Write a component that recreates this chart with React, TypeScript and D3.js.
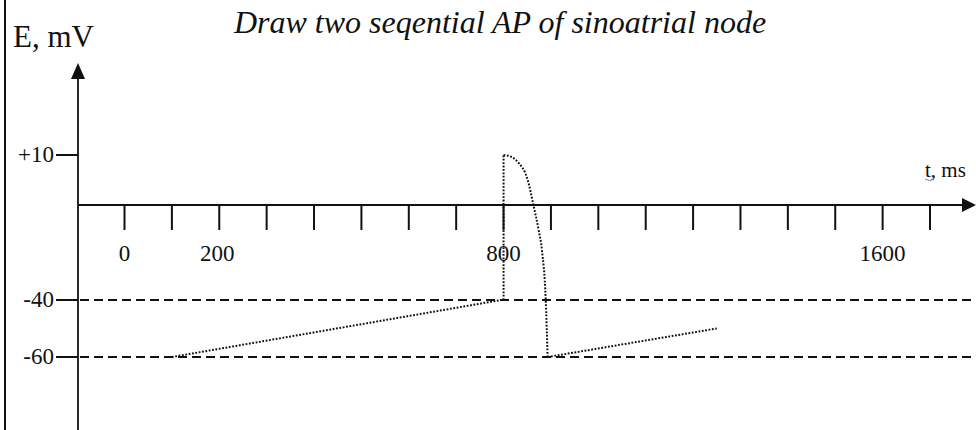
import React from "react";
import * as d3 from "d3";

// Time ticks along the horizontal axis (ms)
const tickTimes = [0, 100, 200, 300, 400, 500, 600, 700, 800, 900, 1000, 1100, 1200, 1300, 1400, 1500, 1600, 1700];
const labeledTimes = [0, 200, 800, 1600];

// Potential levels marked on the vertical axis (mV)
const levelValues = [10, -40, -60];
const levelLabels = ["+10", "-40", "-60"];
const dashedLevels = [-40, -60];

// Sinoatrial node action potential, sketched as dotted traces
const phase4First = [
  { t: 100, e: -60 },
  { t: 795, e: -40 },
];
const upstroke = [
  { t: 800, e: -40 },
  { t: 800, e: 10 },
];
const repolarization = [
  { t: 800, e: 10 },
  { t: 812, e: 9.8 },
  { t: 830, e: 8.6 },
  { t: 851, e: 5 },
  { t: 863, e: 0 },
  { t: 874, e: -10.5 },
  { t: 881, e: -19 },
  { t: 889, e: -40 },
  { t: 893, e: -60 },
];
const phase4Second = [
  { t: 893, e: -60 },
  { t: 1250, e: -50 },
];

const W = 976;
const H = 430;

export default function App() {
  const x = d3.scaleLinear().domain([0, 1700]).range([124.5, 930]);
  // schematic, non-uniform potential axis
  const y = d3.scaleLinear().domain([-60, -40, 0, 10]).range([357, 300, 205, 155]);

  const axisX = 78;
  const axisY = y(0);

  const line = d3
    .line<{ t: number; e: number }>()
    .x((d) => x(d.t))
    .y((d) => y(d.e));
  const curve = d3
    .line<{ t: number; e: number }>()
    .x((d) => x(d.t))
    .y((d) => y(d.e))
    .curve(d3.curveMonotoneX);

  const font = "'Liberation Serif', 'Times New Roman', serif";
  const ink = "#111";
  const dotted = { fill: "none", stroke: "#111", strokeWidth: 2, strokeDasharray: "1.8 1.6" };

  return (
    <svg
      width={W}
      height={H}
      style={{ position: "absolute", left: 0, top: 0, background: "#fff" }}
      fontFamily={font}
    >
      <rect x={0} y={0} width={W} height={H} fill="#fff" />
      {/* left frame edge */}
      <line x1={5} y1={0} x2={5} y2={H} stroke={ink} strokeWidth={2} />

      <text x={500} y={33} textAnchor="middle" fontSize={32} fontStyle="italic" fill={ink}>
        Draw two seqential AP of sinoatrial node
      </text>

      <text x={13} y={47} fontSize={31} fill={ink}>
        E, mV
      </text>

      {/* dashed reference levels */}
      {dashedLevels.map((v) => (
        <line
          key={v}
          x1={axisX + 2}
          x2={W}
          y1={y(v)}
          y2={y(v)}
          stroke={ink}
          strokeWidth={2.2}
          strokeDasharray="9 5"
        />
      ))}

      {/* vertical axis */}
      <line x1={axisX} y1={75} x2={axisX} y2={H} stroke={ink} strokeWidth={1.8} />
      <polygon points={`${axisX},63 ${axisX - 7},79 ${axisX + 7},79`} fill={ink} />

      {levelValues.map((v, i) => (
        <g key={v}>
          <line x1={56} x2={axisX} y1={y(v)} y2={y(v)} stroke={ink} strokeWidth={2} />
          <text x={54} y={y(v) + 7} textAnchor="end" fontSize={23} fill={ink}>
            {levelLabels[i]}
          </text>
        </g>
      ))}

      {/* horizontal axis */}
      <line x1={axisX} y1={axisY} x2={964} y2={axisY} stroke={ink} strokeWidth={2} />
      <polygon points={`${W},${axisY} ${962},${axisY - 7} ${962},${axisY + 7}`} fill={ink} />

      {tickTimes.map((t) => (
        <line key={t} x1={x(t)} x2={x(t)} y1={axisY} y2={axisY + 25} stroke={ink} strokeWidth={2} />
      ))}
      {labeledTimes.map((t) => (
        <text key={t} x={x(t) - (t === 200 ? 2 : 0)} y={261} textAnchor="middle" fontSize={23} fill={ink}>
          {t}
        </text>
      ))}

      <text x={925} y={177} fontSize={21} fill={ink}>
        t, ms
      </text>
      <path d="M925,180 q1.5,-1.5 3,0 t3,0 t3,0" fill="none" stroke="#555" strokeWidth={0.8} />

      {/* action potential traces */}
      <path d={line(phase4First) ?? ""} {...dotted} />
      <path d={line(upstroke) ?? ""} {...dotted} />
      <path d={curve(repolarization) ?? ""} {...dotted} />
      <path d={line(phase4Second) ?? ""} {...dotted} />
    </svg>
  );
}
